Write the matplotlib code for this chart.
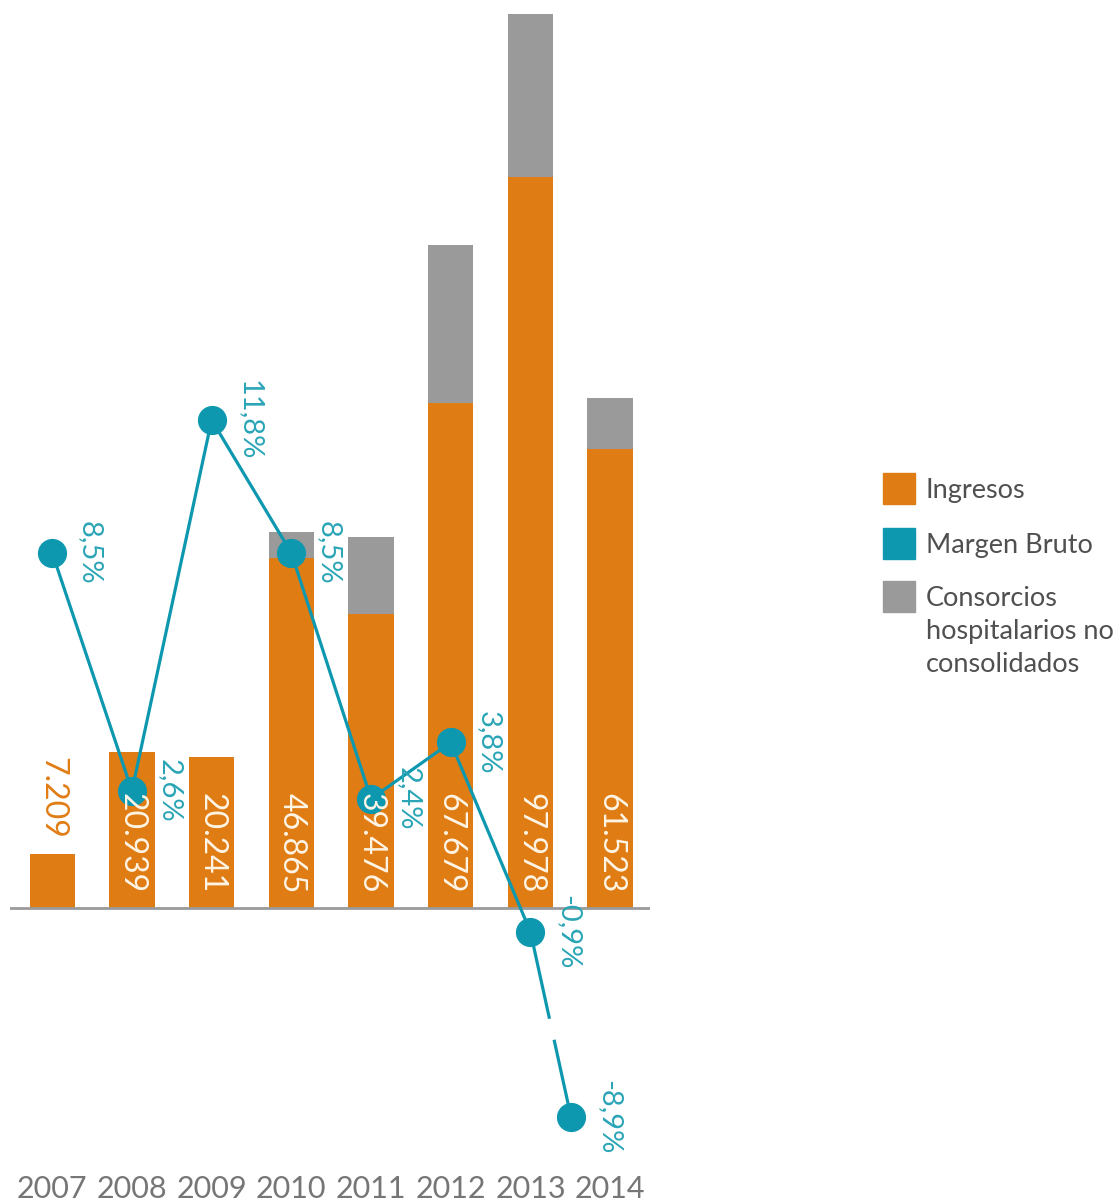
import matplotlib
matplotlib.use('Agg')
import matplotlib.pyplot as plt
from matplotlib.patches import Rectangle
import numpy as np

years = ['2007', '2008', '2009', '2010', '2011', '2012', '2013', '2014']
ingresos = [7.209, 20.939, 20.241, 46.865, 39.476, 67.679, 97.978, 61.523]
consorcios = [0, 0, 0, 3.6, 10.3, 21.2, 21.9, 6.9]
margen = [8.5, 2.6, 11.8, 8.5, 2.4, 3.8, -0.9, -8.9]

legend_labels = ['Ingresos', 'Margen Bruto', 'Consorcios\nhospitalarios no\nconsolidados']

orange = '#E07C14'
teal = '#0E98B0'
teal_txt = '#2AA5B6'
gray = '#9A9A9A'

plt.rcParams['font.family'] = ['Lato', 'DejaVu Sans']

fig = plt.figure(figsize=(11.2, 12.02), dpi=100)
W, H = 1120, 1202
ax = fig.add_axes([10 / W, (H - 1160) / H, 640 / W, 1150 / H])

x = np.arange(len(years))
ax.bar(x, ingresos, width=0.57, color=orange, zorder=2)
ax.bar(x, consorcios, width=0.57, bottom=ingresos, color=gray, zorder=2)
ax.axhline(0, color='#9A9A9A', lw=2, zorder=3)
ax.set_xlim(-0.53, 7.5)
ax.set_ylim(-33.8, 120.4)
ax.set_yticks([])
ax.set_xticks(x)
ax.set_xticklabels(years, fontsize=22, color='#767676')
ax.tick_params(axis='x', length=0, pad=11)
for s in ax.spines.values():
    s.set_visible(False)

# line on its own scale, the -8,9% point is drawn on a squeezed (broken) scale
ax2 = ax.twinx()
ax2.set_ylim(-6.56, 21.97)
ax2.set_yticks([])
for s in ax2.spines.values():
    s.set_visible(False)


def squash(v):
    return v if v >= -1 else -1 + (v + 1) * 0.57


line_x = x.astype(float)
line_x[-1] -= 0.49
line_y = np.array([squash(v) for v in margen])

ax2.plot(line_x[:-1], line_y[:-1], color=teal, lw=2.3, zorder=4)
# last segment with a gap to show the broken scale
p0 = np.array([line_x[-2], line_y[-2]])
p1 = np.array([line_x[-1], line_y[-1]])
for t0, t1 in [(0, 0.46), (0.59, 1)]:
    a = p0 + (p1 - p0) * t0
    b = p0 + (p1 - p0) * t1
    ax2.plot([a[0], b[0]], [a[1], b[1]], color=teal, lw=2.3, zorder=4)
ax2.plot(line_x, line_y, 'o', color=teal, ms=20, zorder=5)

for xi, yi, v in zip(line_x, line_y, margen):
    ax2.annotate(f'{v:.1f}%'.replace('.', ','), (xi, yi), xytext=(27, 0),
                 textcoords='offset points', rotation=-90, ha='center',
                 va='center', fontsize=21, color=teal_txt, zorder=6)

for xi, v in zip(x, ingresos):
    lbl = f'{v:.3f}'
    if v < 15:
        ax2.text(xi, v + 2.0, lbl, transform=ax.transData, rotation=-90,
                 rotation_mode='anchor', ha='right', va='center',
                 fontsize=23, color=orange, zorder=7)
    else:
        ax2.text(xi, 2.0, lbl, transform=ax.transData, rotation=-90,
                 rotation_mode='anchor', ha='right', va='center',
                 fontsize=23, color='#FFF5E6', zorder=7)

# legend
colors = [orange, teal, gray]
rows = [473, 528, 581]
for c, lbl, top in zip(colors, legend_labels, rows):
    fig.add_artist(Rectangle((883 / W, (H - top - 31) / H), 32 / W, 31 / H,
                             transform=fig.transFigure, color=c))
    fig.text(926 / W, (H - top - 5) / H, lbl, ha='left', va='top',
             fontsize=19.5, color='#505050', linespacing=1.4)

fig.savefig('out.png', dpi=100)
